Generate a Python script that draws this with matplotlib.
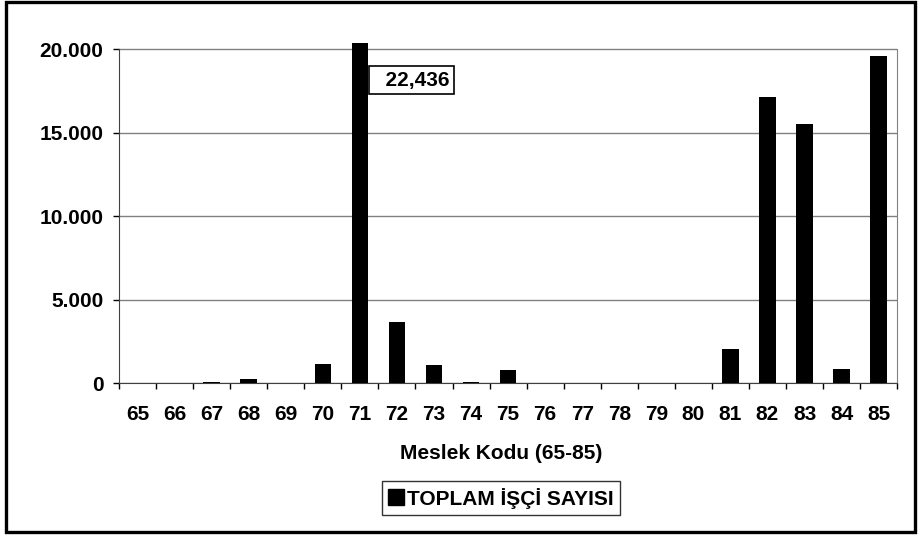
import matplotlib.pyplot as plt
from matplotlib.lines import Line2D
from matplotlib.patches import Rectangle
from matplotlib.ticker import FuncFormatter

plt.rcParams['font.family'] = ['Liberation Sans', 'DejaVu Sans']
plt.rcParams['font.weight'] = 'bold'

# --- data ---
codes = [str(c) for c in range(65, 86)]
workers = [0, 0, 80, 240, 0, 1150, 22436, 3650, 1080, 80, 800,
           0, 0, 0, 0, 0, 2020, 17130, 15500, 850, 19580]
y_ticks = [0, 5000, 10000, 15000, 20000]
series_name = "TOPLAM İŞÇİ SAYISI"

fs = 15
fig = plt.figure(figsize=(9.23, 5.35), dpi=100)
ax = fig.add_axes([0.129, 0.284, 0.843, 0.635])

x = range(len(codes))
ax.bar(x, workers, width=0.45, color='black', zorder=3)

ax.set_xlim(-0.5, len(codes) - 0.5)
ax.set_ylim(0, 20350)
ax.set_yticks(y_ticks)
ax.yaxis.set_major_formatter(FuncFormatter(lambda v, p: '0' if v == 0 else f"{int(v):,}".replace(',', '.')))
ax.grid(axis='y', color='#808080', linewidth=1, zorder=0)

# category labels at centers, tick marks at boundaries
ax.set_xticks(list(x))
ax.set_xticklabels(codes)
ax.set_xticks([i - 0.5 for i in range(len(codes) + 1)], minor=True)
ax.tick_params(axis='x', which='major', length=0, pad=16, labelsize=fs)
ax.tick_params(axis='x', which='minor', length=4.3, width=1, color='black')
ax.tick_params(axis='y', length=4.3, width=1, color='black', labelsize=fs, pad=7)

ax.spines['top'].set_visible(False)
ax.spines['left'].set_bounds(0, 20000)
ax.spines['right'].set_bounds(0, 20000)
ax.spines['left'].set_color('#404040')
ax.spines['right'].set_color('#808080')
ax.spines['bottom'].set_color('#404040')

fig.text(0.543, 0.153, "Meslek Kodu (65-85)", ha='center', va='center',
         fontsize=fs, fontweight='bold')

# value label for the clipped bar
top_i = workers.index(max(workers))
ax.annotate(f"  {max(workers):,}", xy=(top_i + 2.42, 18150), ha='right', va='center',
            fontsize=fs, fontweight='bold', zorder=5,
            bbox=dict(boxstyle='square,pad=0.22', fc='white', ec='black', lw=1.2))

handle = Line2D([], [], marker='s', color='black', linestyle='none', markersize=12)
leg = fig.legend([handle], [series_name], loc='center', bbox_to_anchor=(0.543, 0.069),
                 frameon=True, fancybox=False, edgecolor='black', fontsize=fs,
                 handlelength=0.7, handletextpad=0.2, borderpad=0.3, borderaxespad=0)
leg.get_frame().set_linewidth(1)

fig.patches.append(Rectangle((0.0065, 0.0056), 0.985, 0.991, transform=fig.transFigure,
                             fill=False, ec='black', lw=2.4))

fig.savefig('out.png', dpi=100)
